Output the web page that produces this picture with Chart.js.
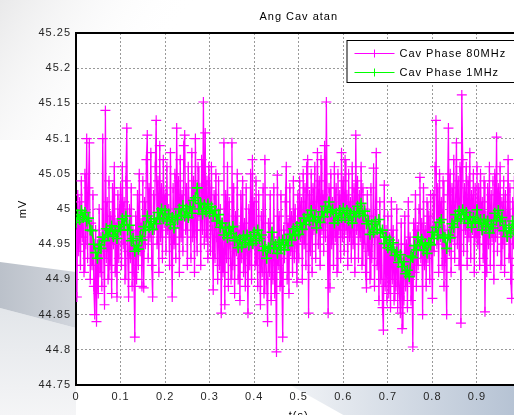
<!DOCTYPE html>
<html>
<head>
<meta charset="utf-8">
<script src="https://cdn.jsdelivr.net/npm/chart.js@4.4.1/dist/chart.umd.min.js"></script>
<style>
html, body { margin: 0; padding: 0; overflow: hidden; background: #fff; }
</style>
</head>
<body>
<canvas id="myChart" width="540" height="430"></canvas>
<script>
// sample spacing (s)
const step80 = 0.002;
const step1 = 0.004;

// Cav Phase 80MHz, one row per 0.1 s
const phase80MHz = [
  44.97, 44.875, 45.02, 44.94, 45.01, 44.92, 45.04, 44.96, 44.99, 44.91, 45.05, 44.95, 45.10, 44.93, 45.03, 45.094, 44.90, 44.98, 44.92, 45.02, 44.89, 44.85, 44.97, 44.84, 44.95,
  44.88, 45.00, 44.91, 44.96, 44.89, 45.10, 44.94, 44.864, 45.14, 44.93, 45.01, 44.90, 45.04, 44.92, 44.99, 44.88, 45.03, 44.95, 45.06, 44.91, 44.98, 44.875, 45.02, 44.93, 45.00,
  45.03, 44.92, 45.06, 44.95, 45.01, 44.90, 45.04, 45.115, 44.94, 44.875, 45.00, 44.93, 45.03, 44.89, 44.97, 44.91, 44.818, 44.99, 44.90, 45.02, 44.92, 45.05, 44.94, 44.98, 44.89,
  45.04, 44.888, 45.01, 44.95, 45.07, 45.105, 44.93, 45.03, 44.96, 45.08, 44.92, 44.875, 45.02, 44.97, 45.06, 45.126, 44.95, 45.04, 44.91, 45.09, 44.96, 45.03, 44.93, 45.07, 44.98,
  45.02, 44.94, 45.06, 44.97, 45.00, 44.92, 45.08, 44.96, 44.875, 45.03, 44.95, 45.05, 44.93, 45.115, 44.98, 45.04, 44.91, 45.07, 44.96, 45.02, 44.94, 45.09, 45.105, 44.97, 45.03,
  44.92, 45.06, 44.99, 45.01, 44.93, 45.08, 44.96, 45.04, 44.91, 45.10, 44.97, 44.94, 45.06, 44.99, 45.03, 44.92, 45.07, 44.97, 45.152, 44.95, 45.108, 44.96, 45.04, 44.93, 45.06,
  45.03, 44.94, 45.06, 44.97, 44.885, 45.02, 44.93, 45.05, 44.96, 44.90, 45.04, 44.92, 45.00, 44.852, 44.98, 44.91, 45.094, 44.864, 45.02, 44.93, 45.06, 44.89, 45.01, 44.95, 44.90,
  45.094, 44.92, 45.03, 44.88, 44.99, 44.94, 45.05, 44.90, 44.97, 44.87, 45.02, 44.93, 45.04, 44.91, 44.98, 44.89, 45.03, 44.94, 44.852, 45.00, 44.92, 45.05, 44.90, 45.07, 44.95,
  45.01, 44.92, 45.04, 44.95, 44.89, 45.02, 44.93, 44.864, 44.99, 44.91, 45.03, 44.88, 45.07, 44.94, 44.90, 44.84, 44.98, 44.91, 45.02, 44.87, 44.96, 44.90, 45.03, 44.88, 44.95,
  44.797, 45.048, 44.92, 44.99, 44.89, 45.02, 44.91, 44.818, 44.97, 44.93, 45.01, 45.06, 44.90, 44.98, 44.88, 45.03, 44.94, 44.99, 44.91, 45.04, 44.93, 45.00, 44.95, 44.896, 45.02,
  44.93, 45.04, 44.96, 45.01, 44.90, 45.05, 44.95, 45.03, 44.92, 45.06, 45.07, 44.852, 45.02, 44.94, 45.05, 44.91, 45.03, 44.97, 45.06, 44.93, 45.01, 45.08, 44.95, 45.04, 44.92,
  45.07, 44.97, 45.02, 44.94, 45.09, 44.96, 45.152, 44.98, 44.852, 45.03, 44.888, 45.05, 44.95, 45.01, 44.92, 45.06, 44.96, 45.03, 44.91, 45.05, 44.97, 45.02, 44.93, 45.08, 44.96,
  45.04, 44.94, 45.07, 44.97, 45.02, 44.92, 45.05, 44.96, 45.01, 44.93, 45.06, 44.95, 45.03, 44.91, 45.105, 44.97, 45.04, 44.93, 45.02, 44.96, 45.06, 44.92, 45.03, 44.95, 45.00,
  44.91, 44.888, 45.02, 44.94, 44.99, 44.90, 45.03, 44.93, 44.97, 45.058, 44.89, 44.98, 45.08, 44.92, 44.96, 44.87, 45.01, 44.90, 44.95, 44.86, 44.828, 45.034, 44.89, 44.97, 44.87,
  44.99, 44.88, 44.96, 44.86, 45.01, 44.90, 44.97, 44.87, 44.94, 44.89, 45.00, 44.86, 44.95, 44.88, 44.852, 44.98, 44.83, 44.93, 44.87, 44.99, 44.89, 44.95, 44.86, 45.01, 44.90,
  44.96, 44.87, 44.94, 44.804, 44.98, 44.91, 45.02, 44.89, 44.97, 44.92, 45.00, 45.045, 44.93, 44.98, 44.85, 45.03, 44.92, 44.97, 44.89, 45.01, 44.93, 44.99, 44.90, 45.02, 44.94,
  44.873, 45.02, 44.94, 45.06, 45.126, 44.95, 45.03, 44.91, 45.05, 44.96, 45.01, 44.92, 45.04, 44.89, 44.97, 44.93, 44.85, 45.02, 45.115, 44.94, 45.05, 44.91, 45.03, 44.96, 45.07,
  44.93, 45.01, 45.094, 44.95, 45.04, 44.92, 45.06, 44.838, 45.162, 45.07, 44.94, 45.03, 44.97, 45.06, 44.92, 45.04, 44.96, 45.08, 44.93, 45.02, 44.97, 45.05, 44.91, 45.03, 44.96,
  45.06, 44.95, 45.03, 44.92, 45.05, 44.97, 45.01, 44.93, 45.04, 44.854, 44.99, 44.91, 45.03, 44.95, 45.06, 44.92, 45.02, 44.96, 45.04, 44.90, 45.05, 44.96, 45.102, 44.94, 45.03,
  44.97, 45.06, 44.92, 45.01, 44.95, 45.04, 44.91, 45.02, 44.96, 44.99, 45.07, 44.93, 45.03, 44.90, 44.873, 45.01, 44.95, 45.04, 44.92, 45.00, 44.96, 45.03, 44.91, 44.99, 44.94,
  44.97
];

// Cav Phase 1MHz, one row per 0.1 s
const phase1MHz = [
  44.981, 44.992, 44.985, 44.998, 44.988, 44.995, 44.983, 44.987, 44.970, 44.969, 44.950, 44.938, 44.930, 44.949, 44.944, 44.960, 44.955, 44.972, 44.963, 44.970, 44.976, 44.961, 44.968, 44.958, 44.975,
  44.970, 44.986, 44.978, 44.990, 44.970, 44.977, 44.955, 44.958, 44.940, 44.948, 44.943, 44.961, 44.956, 44.975, 44.970, 44.990, 44.974, 44.982, 44.971, 44.986, 44.979, 44.995, 44.987, 45.000, 44.986,
  44.998, 44.983, 44.993, 44.978, 44.988, 44.973, 44.990, 44.985, 45.000, 44.991, 45.005, 44.990, 45.000, 44.988, 45.003, 44.994, 45.012, 45.016, 45.030, 45.000, 45.008, 44.993, 45.006, 44.996, 45.007,
  44.994, 45.003, 44.990, 44.998, 44.983, 44.992, 44.974, 44.980, 44.963, 44.973, 44.959, 44.974, 44.965, 44.975, 44.955, 44.960, 44.945, 44.957, 44.946, 44.962, 44.952, 44.963, 44.949, 44.961, 44.951,
  44.967, 44.955, 44.970, 44.958, 44.963, 44.941, 44.947, 44.930, 44.945, 44.944, 44.967, 44.944, 44.950, 44.937, 44.953, 44.945, 44.956, 44.942, 44.956, 44.948, 44.964, 44.956, 44.972, 44.962, 44.975,
  44.964, 44.980, 44.971, 44.987, 44.978, 44.992, 44.983, 44.998, 44.984, 44.989, 44.973, 44.989, 44.981, 44.996, 44.989, 45.004, 44.995, 45.010, 44.996, 44.999, 44.980, 44.994, 44.984, 44.998, 44.988,
  45.001, 44.988, 44.998, 44.984, 44.994, 44.980, 44.996, 44.989, 45.004, 44.994, 45.008, 44.991, 44.997, 44.979, 44.983, 44.964, 44.978, 44.967, 44.982, 44.971, 44.985, 44.966, 44.970, 44.951, 44.960,
  44.945, 44.956, 44.942, 44.952, 44.934, 44.939, 44.924, 44.935, 44.918, 44.925, 44.908, 44.913, 44.904, 44.933, 44.931, 44.948, 44.942, 44.960, 44.949, 44.957, 44.941, 44.951, 44.937, 44.952, 44.949,
  44.967, 44.958, 44.974, 44.963, 44.981, 44.985, 44.960, 44.959, 44.944, 44.963, 44.959, 44.979, 44.974, 44.992, 44.983, 44.997, 44.986, 44.999, 44.986, 44.995, 44.980, 44.989, 44.974, 44.988, 44.982,
  44.999, 44.980, 44.985, 44.970, 44.985, 44.975, 44.983, 44.966, 44.978, 44.973, 44.994, 44.984, 44.998, 44.983, 44.988, 44.969, 44.977, 44.961, 44.973, 44.966, 44.983, 44.969, 44.978, 44.964, 44.977,
  44.975
];

const seriesLabels = ['Cav Phase 80MHz', 'Cav Phase 1MHz'];
const xTicks = [0, 0.1, 0.2, 0.3, 0.4, 0.5, 0.6, 0.7, 0.8, 0.9, 1];
const yTicks = [44.75, 44.8, 44.85, 44.9, 44.95, 45, 45.05, 45.1, 45.15, 45.2, 45.25];

const FONT = 'Liberation Sans, Arial, sans-serif';
const MAGENTA = '#ff00ff';
const GREEN = '#00ff00';

function toPoints(values, dt) {
    return values.map((v, i) => ({ x: +(i * dt).toFixed(4), y: v }));
}

// slide background behind the axes, white plot box
const slideBg = {
    id: 'slideBg',
    beforeDraw(chart) {
        const ctx = chart.ctx;
        const a = chart.chartArea;
        ctx.save();
        ctx.fillStyle = '#ffffff';
        ctx.fillRect(0, 0, chart.width, chart.height);

        let g = ctx.createLinearGradient(0, 0, 140, 90);
        g.addColorStop(0, '#e9e9ea');
        g.addColorStop(1, 'rgba(255,255,255,0)');
        ctx.fillStyle = g;
        ctx.fillRect(0, 0, 260, 140);

        g = ctx.createLinearGradient(0, 310, 0, 430);
        g.addColorStop(0, '#e3e6ea');
        g.addColorStop(1, '#f7f7f8');
        ctx.fillStyle = g;
        ctx.beginPath();
        ctx.moveTo(0, 308); ctx.lineTo(a.left, 328); ctx.lineTo(a.left, 430); ctx.lineTo(0, 430);
        ctx.closePath(); ctx.fill();

        g = ctx.createLinearGradient(0, 0, a.left, 0);
        g.addColorStop(0, '#bbc1ca');
        g.addColorStop(1, '#d2d6dd');
        ctx.fillStyle = g;
        ctx.beginPath();
        ctx.moveTo(0, 262); ctx.lineTo(a.left, 272); ctx.lineTo(a.left, 328); ctx.lineTo(0, 308);
        ctx.closePath(); ctx.fill();

        g = ctx.createLinearGradient(290, 0, 514, 0);
        g.addColorStop(0, '#f1f3f6');
        g.addColorStop(1, '#b6c3d4');
        ctx.fillStyle = g;
        ctx.beginPath();
        ctx.moveTo(290, a.bottom); ctx.lineTo(540, a.bottom); ctx.lineTo(540, 430); ctx.lineTo(370, 430);
        ctx.closePath(); ctx.fill();

        ctx.fillStyle = '#ffffff';
        ctx.fillRect(a.left, a.top, a.width, a.height);
        ctx.restore();
        ctx.letterSpacing = '1px';
    }
};

// box on top + legend
const boxLegend = {
    id: 'boxLegend',
    afterDraw(chart) {
        const ctx = chart.ctx;
        const a = chart.chartArea;
        ctx.save();
        ctx.strokeStyle = '#000';
        ctx.lineWidth = 2;
        ctx.beginPath();
        ctx.moveTo(a.left - 1, a.top);
        ctx.lineTo(a.right, a.top);
        ctx.lineTo(a.right, a.bottom);
        ctx.stroke();

        const lx = a.right - 175, ly = 40;
        ctx.fillStyle = '#fff';
        ctx.fillRect(lx, ly, 200, 42);
        ctx.lineWidth = 1;
        ctx.strokeRect(lx + 0.5, ly + 0.5, 200, 42);

        const colors = [MAGENTA, GREEN];
        ctx.font = '11px ' + FONT;
        ctx.textBaseline = 'middle';
        ctx.letterSpacing = '1px';
        seriesLabels.forEach((label, i) => {
            const y = ly + 13.5 + i * 19;
            ctx.strokeStyle = colors[i];
            ctx.beginPath();
            ctx.moveTo(lx + 8, y); ctx.lineTo(lx + 48, y);
            ctx.moveTo(lx + 28, y - 4); ctx.lineTo(lx + 28, y + 4);
            ctx.stroke();
            ctx.fillStyle = '#000';
            ctx.fillText(label, lx + 53, y);
        });
        ctx.restore();
    }
};

const ctx = document.getElementById('myChart');

new Chart(ctx, {
    type: 'line',
    data: {
        datasets: [{
            label: seriesLabels[0],
            data: toPoints(phase80MHz, step80),
            borderColor: MAGENTA,
            borderWidth: 1.3,
            pointStyle: 'cross',
            pointRadius: 5,
            pointBorderColor: MAGENTA,
            pointBorderWidth: 1.2,
            order: 1
        }, {
            label: seriesLabels[1],
            data: toPoints(phase1MHz, step1),
            borderColor: GREEN,
            borderWidth: 1.5,
            pointStyle: 'cross',
            pointRadius: 5.5,
            pointBorderColor: GREEN,
            pointBorderWidth: 1.6,
            order: 0
        }]
    },
    options: {
        responsive: false,
        devicePixelRatio: 1,
        animation: false,
        events: [],
        layout: { padding: { left: 0, right: 18.5, top: 0, bottom: 0 } },
        plugins: {
            legend: { display: false },
            tooltip: { enabled: false },
            title: {
                display: true,
                text: 'Ang Cav atan',
                fullSize: false,
                color: '#000',
                font: { family: FONT, size: 11, weight: 'normal' },
                padding: { top: 10.5, bottom: 9.3 }
            }
        },
        scales: {
            x: {
                type: 'linear',
                min: 0,
                max: 1,
                afterFit(s) { s.height = 45; },
                afterBuildTicks(s) { s.ticks = xTicks.map(v => ({ value: v })); },
                grid: { color: 'rgba(0,0,0,0.4)', lineWidth: 1, drawTicks: false },
                border: { color: '#000', width: 2, dash: [2, 2] },
                ticks: {
                    padding: 5,
                    autoSkip: false,
                    maxRotation: 0,
                    color: '#262626',
                    font: { family: FONT, size: 11 },
                    callback: v => String(+v.toFixed(1))
                },
                title: {
                    display: true,
                    text: 't(s)',
                    color: '#000',
                    font: { family: FONT, size: 11 },
                    padding: { top: 0, bottom: 7.4 }
                }
            },
            y: {
                min: 44.75,
                max: 45.25,
                afterFit(s) { s.width = 76; },
                afterBuildTicks(s) { s.ticks = yTicks.map(v => ({ value: v })); },
                grid: { color: 'rgba(0,0,0,0.4)', lineWidth: 1, drawTicks: false },
                border: { color: '#000', width: 2, dash: [2, 2] },
                ticks: {
                    padding: 5,
                    autoSkip: false,
                    color: '#262626',
                    font: { family: FONT, size: 11 },
                    callback: v => String(+v.toFixed(2))
                },
                title: {
                    display: true,
                    text: 'mV',
                    color: '#000',
                    font: { family: FONT, size: 11 },
                    padding: { top: 16, bottom: 0 }
                }
            }
        }
    },
    plugins: [slideBg, boxLegend]
});
</script>
</body>
</html>
